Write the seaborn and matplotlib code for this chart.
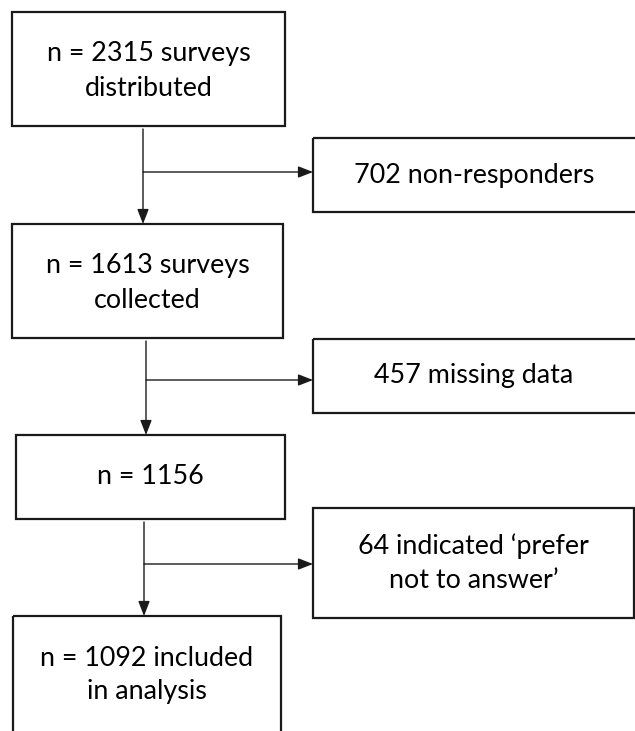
import matplotlib
matplotlib.use("Agg")
import matplotlib.pyplot as plt
import seaborn as sns
from matplotlib.patches import Rectangle

# flow counts and labels
main_counts = [2315, 1613, 1156, 1092]
main_labels = ["n = 2315 surveys\ndistributed",
               "n = 1613 surveys\ncollected",
               "n = 1156",
               "n = 1092 included\nin analysis"]
excluded_counts = [702, 457, 64]
excluded_labels = ["702 non-responders",
                   "457 missing data",
                   "64 indicated \u2018prefer\nnot to answer\u2019"]

# layout in pixel space (x0, y0, x1, y1), plus text centre y
main_boxes = [(12, 12, 285, 126), (12, 224, 283, 338),
              (16, 435, 285, 519), (13, 616, 281, 760)]
main_text_y = [71, 283, 476, 675]
side_boxes = [(313, 138, 640, 212), (313, 339, 640, 413), (313, 508, 634, 618)]
side_text_y = [175, 376, 563]
stem_x = [143, 146, 144]
branch_y = [172, 380, 564]

sns.set_style("white")
plt.rcParams['font.family'] = ['Lato', 'DejaVu Sans']

fig = plt.figure(figsize=(6.35, 7.31), dpi=100)
ax = fig.add_axes([0, 0, 1, 1])
ax.set_xlim(0, 635)
ax.set_ylim(731, 0)
ax.axis("off")


def draw_box(box, text_y, label):
    x0, y0, x1, y1 = box
    ax.add_patch(Rectangle((x0, y0), x1 - x0, y1 - y0, fill=False,
                           edgecolor="#1a1a1a", linewidth=1.6))
    ax.text((x0 + min(x1, 635)) / 2, text_y, label,
            ha="center", va="center", fontsize=19.4, color="#000000",
            linespacing=1.45)


for box, ty, label in zip(main_boxes, main_text_y, main_labels):
    draw_box(box, ty, label)
for box, ty, label in zip(side_boxes, side_text_y, excluded_labels):
    draw_box(box, ty, label)

arrow_style = dict(arrowstyle="-|>,head_length=0.9,head_width=0.35",
                   color="#1a1a1a", linewidth=1.0, shrinkA=0, shrinkB=0)
for i in range(3):
    x = stem_x[i]
    top = main_boxes[i][3] + 3
    bottom = main_boxes[i + 1][1]
    ax.annotate("", xy=(x, bottom), xytext=(x, top), arrowprops=arrow_style)
    ax.annotate("", xy=(side_boxes[i][0], branch_y[i]), xytext=(x, branch_y[i]),
                arrowprops=arrow_style)

fig.savefig("out.png", dpi=100, facecolor="white")
